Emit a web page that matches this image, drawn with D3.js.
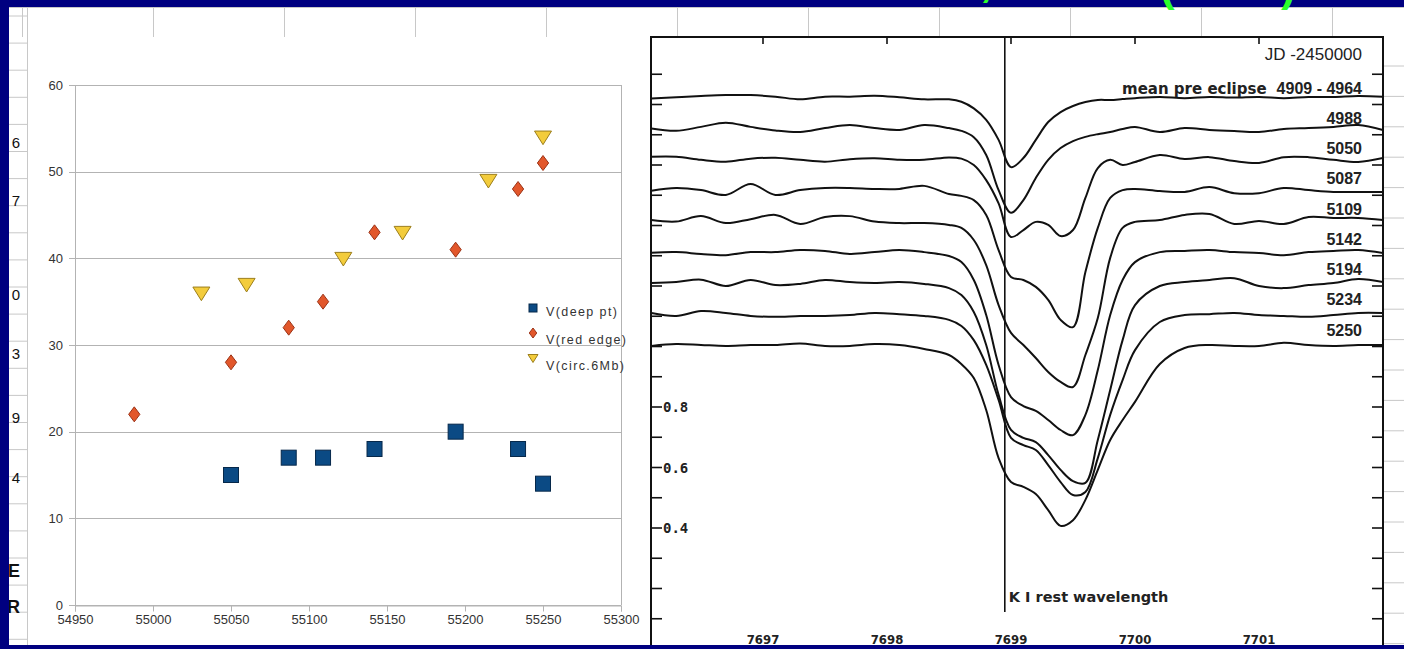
<!DOCTYPE html>
<html>
<head>
<meta charset="utf-8">
<script src="https://cdn.jsdelivr.net/npm/d3@7"></script>
<style>
  html, body { margin: 0; padding: 0; background: #000080; }
  svg { display: block; }
</style>
</head>
<body>
<svg id="chart" width="1404" height="649"></svg>
<script>
// ---------- Left panel: velocities vs JD ----------
const jdDeep   = [55050, 55087, 55109, 55142, 55194, 55234, 55250];
const vDeep    = [15, 17, 17, 18, 20, 18, 14];
const jdRed    = [54988, 55050, 55087, 55109, 55142, 55194, 55234, 55250];
const vRed     = [22, 28, 32, 35, 43, 41, 48, 51];
const jdCirc   = [55031, 55060, 55122, 55160, 55215, 55250];
const vCirc    = [36, 37, 40, 43, 49, 54];
const jdTicks  = [54950, 55000, 55050, 55100, 55150, 55200, 55250, 55300];
const vTicks   = [0, 10, 20, 30, 40, 50, 60];
const legendNames = ["V(deep pt)", "V(red edge)", "V(circ.6Mb)"];

// ---------- Right panel: K I 7699 line profiles ----------
const wavelengths = [7696.1, 7696.3, 7696.5, 7696.7, 7696.9, 7697.1, 7697.3, 7697.5, 7697.7, 7697.9,
  7698.1, 7698.3, 7698.5, 7698.6, 7698.7, 7698.8, 7698.9, 7699.0, 7699.1, 7699.2,
  7699.3, 7699.4, 7699.5, 7699.6, 7699.7, 7699.8, 7699.9, 7700.0, 7700.2, 7700.4,
  7700.6, 7700.8, 7701.0, 7701.2, 7701.4, 7701.6, 7701.8, 7702.0];
const fluxMean = [1.020,1.024,1.028,1.031,1.031,1.026,1.017,1.026,1.026,1.029,1.024,1.017,1.017,1.009,0.987,0.949,0.883,0.793,0.823,0.883,0.942,0.975,0.995,1.008,1.015,1.015,1.018,1.021,1.025,1.021,1.025,1.023,1.025,1.021,1.025,1.025,1.028,1.026];
const flux4988 = [1.021,1.013,1.026,1.040,1.026,1.014,1.009,1.022,1.032,1.022,1.016,1.032,1.022,1.013,0.992,0.933,0.817,0.742,0.784,0.857,0.917,0.956,0.979,0.993,1.002,1.009,1.019,1.026,1.009,1.022,1.016,1.012,1.009,1.019,1.022,1.026,1.032,1.016];
const flux5050 = [1.027,1.027,1.017,1.011,1.021,1.024,1.017,1.011,1.019,1.022,1.017,1.017,1.025,1.021,1.000,0.950,0.873,0.762,0.785,0.812,0.802,0.765,0.785,0.891,0.990,1.017,1.000,1.010,1.033,1.020,1.026,1.013,1.007,1.026,1.026,1.017,1.010,1.023];
const flux5087 = [1.015,1.024,1.017,1.001,1.037,1.001,1.017,1.024,1.024,1.021,1.021,1.031,1.004,0.998,0.984,0.935,0.819,0.730,0.720,0.697,0.654,0.588,0.564,0.746,0.892,0.991,1.017,1.021,1.014,1.011,1.027,1.007,1.007,1.024,1.017,1.011,1.011,1.011];
const flux5109 = [1.018,1.013,1.031,1.008,1.021,1.035,1.005,1.028,1.031,1.013,1.008,1.008,1.002,0.992,0.952,0.869,0.737,0.645,0.605,0.562,0.516,0.483,0.466,0.572,0.694,0.893,0.992,1.012,1.018,1.035,1.038,1.005,1.015,1.005,1.028,1.025,1.025,1.018];
const flux5142 = [1.010,1.012,1.006,1.002,1.012,1.012,1.019,1.016,1.006,1.012,1.019,1.012,0.999,0.979,0.920,0.804,0.639,0.533,0.503,0.487,0.457,0.424,0.407,0.474,0.622,0.804,0.920,0.979,1.012,1.016,1.019,1.012,1.009,1.002,1.012,1.016,1.019,1.009];
const flux5194 = [1.010,1.013,1.021,1.000,1.020,1.003,1.007,1.020,1.013,1.010,1.013,1.007,0.993,0.970,0.914,0.805,0.640,0.524,0.498,0.484,0.441,0.392,0.355,0.349,0.491,0.656,0.821,0.937,1.000,1.013,1.020,1.026,1.000,0.993,1.003,1.010,1.023,1.013];
const flux5234 = [1.011,1.001,1.017,1.011,1.001,0.998,1.001,1.001,1.004,1.011,1.007,1.001,0.988,0.968,0.921,0.839,0.723,0.598,0.574,0.558,0.508,0.452,0.409,0.419,0.531,0.674,0.789,0.888,0.981,1.004,1.007,1.011,1.004,1.001,0.998,1.004,1.011,1.011];
const flux5250 = [1.002,1.008,1.005,1.002,1.005,1.005,1.010,1.002,1.002,1.008,1.005,0.992,0.972,0.942,0.896,0.790,0.631,0.552,0.536,0.512,0.459,0.407,0.426,0.493,0.592,0.691,0.757,0.817,0.942,0.995,1.005,1.002,1.002,1.012,1.005,1.002,1.005,1.005];
const spectrumNames   = ["mean pre eclipse  4909 - 4964", "4988", "5050", "5087", "5109", "5142", "5194", "5234", "5250"];
const spectrumOffsets = [0.8, 0.7, 0.6, 0.5, 0.4, 0.3, 0.2, 0.1, 0.0];
const waveTicks  = [7697, 7698, 7699, 7700, 7701];
const fluxLabels = [0.4, 0.6, 0.8];
const kIRest = 7698.95;

const spectra = [fluxMean, flux4988, flux5050, flux5087, flux5109, flux5142, flux5194, flux5234, flux5250];

const W = 1404, H = 649;
const svg = d3.select("#chart");

// ---------- page / worksheet backdrop ----------
svg.append("rect").attr("width", W).attr("height", H).attr("fill", "#000080");
const sheet = svg.append("g");
sheet.append("rect").attr("x", 9).attr("y", 7).attr("width", W - 9).attr("height", 638).attr("fill", "#fff");
sheet.append("line").attr("x1", 9).attr("x2", W).attr("y1", 7.5).attr("y2", 7.5).attr("stroke", "#c8c8c8");
// column separators of the sheet
sheet.selectAll("line.col").data(d3.range(22, W, 131)).join("line")
  .attr("x1", d => d + 0.5).attr("x2", d => d + 0.5).attr("y1", 7).attr("y2", 37)
  .attr("stroke", "#c8c8c8");
// row separators (left header column and right margin)
const rowYs = d3.range(16, 645, 27.1);
sheet.selectAll("line.rowL").data(rowYs).join("line")
  .attr("x1", 9).attr("x2", 28).attr("y1", d => d).attr("y2", d => d).attr("stroke", "#c8c8c8");
sheet.append("line").attr("x1", 27.5).attr("x2", 27.5).attr("y1", 7).attr("y2", 645).attr("stroke", "#c8c8c8");
sheet.selectAll("line.rowR").data(d3.range(66, 645, 30.4)).join("line")
  .attr("x1", 1383).attr("x2", W).attr("y1", d => d).attr("y2", d => d).attr("stroke", "#c8c8c8");

// cut-off text of the sheet's first column
const sideText = [["6", 148, 15, "normal"], ["7", 206, 15, "normal"], ["0", 300, 15, "normal"], ["3", 359, 15, "normal"],
  ["9", 423, 15, "normal"], ["4", 483, 15, "normal"], ["E", 577, 18, "bold"], ["R", 613, 18, "bold"]];
sheet.selectAll("text.side").data(sideText).join("text")
  .attr("x", 20).attr("y", d => d[1]).attr("text-anchor", "end")
  .attr("font-family", "Liberation Sans, Arial, sans-serif")
  .attr("font-size", d => d[2]).attr("font-weight", d => d[3]).attr("fill", "#111").text(d => d[0]);

// ================= LEFT CHART =================
const left = svg.append("g");
left.append("rect").attr("x", 28).attr("y", 37).attr("width", 623).attr("height", 608).attr("fill", "#fff");

const xL = d3.scaleLinear().domain([54950, 55300]).range([75, 621]);
const yL = d3.scaleLinear().domain([0, 60]).range([605, 85]);
const gridCol = "#b3b3b3";
const fontL = "Liberation Sans, Arial, sans-serif";

left.selectAll("line.hgrid").data(vTicks).join("line")
  .attr("x1", xL.range()[0] - 6).attr("x2", xL.range()[1])
  .attr("y1", d => Math.round(yL(d)) + 0.5).attr("y2", d => Math.round(yL(d)) + 0.5)
  .attr("stroke", gridCol);
left.append("line").attr("x1", 75.5).attr("x2", 75.5).attr("y1", yL(60)).attr("y2", yL(0)).attr("stroke", gridCol);
left.append("line").attr("x1", 621.5).attr("x2", 621.5).attr("y1", yL(60)).attr("y2", yL(0)).attr("stroke", gridCol);

const xAxisL = d3.axisBottom(xL).tickValues(jdTicks).tickFormat(d3.format("d")).tickSize(6).tickPadding(3);
const gxL = left.append("g").attr("transform", `translate(0,${Math.round(yL(0)) + 0.5})`).call(xAxisL);
gxL.select(".domain").attr("stroke", gridCol);
gxL.selectAll(".tick line").attr("stroke", gridCol);
gxL.selectAll(".tick text").attr("font-family", fontL).attr("font-size", 13).attr("fill", "#333");

left.selectAll("text.ylab").data(vTicks).join("text")
  .attr("x", 63).attr("y", d => yL(d)).attr("dy", "0.35em").attr("text-anchor", "end")
  .attr("font-family", fontL).attr("font-size", 13).attr("fill", "#333").text(d => d);

const sq = 15;
left.selectAll("rect.deep").data(jdDeep).join("rect")
  .attr("x", d => xL(d) - sq / 2).attr("y", (d, i) => yL(vDeep[i]) - sq / 2)
  .attr("width", sq).attr("height", sq)
  .attr("fill", "#0b4a84").attr("stroke", "#06284a").attr("stroke-width", 1);

const diamond = (cx, cy, r) => `M${cx},${cy - r}L${cx + r * 0.75},${cy}L${cx},${cy + r}L${cx - r * 0.75},${cy}Z`;
left.selectAll("path.red").data(jdRed).join("path")
  .attr("d", (d, i) => diamond(xL(d), yL(vRed[i]), 7.5))
  .attr("fill", "#e2572b").attr("stroke", "#9b3317").attr("stroke-width", 1);

const tri = (cx, cy, r) => `M${cx - r},${cy - r * 0.7}L${cx + r},${cy - r * 0.7}L${cx},${cy + r * 0.9}Z`;
left.selectAll("path.circ").data(jdCirc).join("path")
  .attr("d", (d, i) => tri(xL(d), yL(vCirc[i]), 8.5))
  .attr("fill", "#f3cc3c").attr("stroke", "#9c7f1c").attr("stroke-width", 1);

// legend
const lg = left.append("g").attr("transform", "translate(533,308)");
lg.append("rect").attr("x", -4).attr("y", -4).attr("width", 8).attr("height", 8)
  .attr("fill", "#0b4a84").attr("stroke", "#06284a");
lg.append("path").attr("d", diamond(0, 25, 5)).attr("fill", "#e2572b").attr("stroke", "#9b3317");
lg.append("path").attr("d", tri(0, 50, 5)).attr("fill", "#f3cc3c").attr("stroke", "#9c7f1c");
lg.selectAll("text").data(legendNames).join("text")
  .attr("x", 13).attr("y", (d, i) => 4 + 26 * i + (i ? 2 : 0)).attr("dy", "0.35em")
  .attr("font-family", fontL).attr("font-size", 12.5).attr("letter-spacing", 1.4)
  .attr("fill", "#333").text(d => d);

// ================= RIGHT CHART =================
const right = svg.append("g");
const fx0 = 651, fx1 = 1383, fy0 = 37;
right.append("rect").attr("x", fx0).attr("y", fy0).attr("width", fx1 - fx0).attr("height", H - fy0).attr("fill", "#fff");

const xR = d3.scaleLinear().domain([7697, 7701]).range([763, 1259]);
const yR = d3.scaleLinear().domain([0.4, 0.8]).range([528, 407]);

right.append("clipPath").attr("id", "frameClip")
  .append("rect").attr("x", fx0).attr("y", fy0).attr("width", fx1 - fx0).attr("height", H - fy0);

// ticks on the frame: flux every 0.1 on both sides, wavelength every Angstrom on top
const fluxTicks = d3.range(1, 20).map(k => k / 10);
right.selectAll("line.tl").data(fluxTicks).join("line")
  .attr("x1", fx0).attr("x2", fx0 + 11).attr("y1", d => yR(d)).attr("y2", d => yR(d))
  .attr("stroke", "#111").attr("stroke-width", 1.6);
right.selectAll("line.tr").data(fluxTicks).join("line")
  .attr("x1", fx1 - 11).attr("x2", fx1).attr("y1", d => yR(d)).attr("y2", d => yR(d))
  .attr("stroke", "#111").attr("stroke-width", 1.6);
right.selectAll("line.tt").data(waveTicks).join("line")
  .attr("x1", d => xR(d)).attr("x2", d => xR(d)).attr("y1", fy0).attr("y2", fy0 + 7)
  .attr("stroke", "#111").attr("stroke-width", 1.6);

right.selectAll("text.fl").data(fluxLabels).join("text")
  .attr("x", fx0 + 12).attr("y", d => yR(d)).attr("dy", "0.36em")
  .attr("font-family", "DejaVu Sans Mono, monospace").attr("font-weight", "bold")
  .attr("font-size", 14).attr("fill", "#222").text(d => d.toFixed(1));

right.selectAll("text.wl").data(waveTicks).join("text")
  .attr("x", d => xR(d)).attr("y", 644).attr("text-anchor", "middle")
  .attr("font-family", "Liberation Sans Narrow, DejaVu Sans Condensed, sans-serif").attr("font-weight", "bold")
  .attr("font-size", 13).attr("fill", "#222").text(d => d);

// rest wavelength marker
right.append("line").attr("x1", xR(kIRest)).attr("x2", xR(kIRest)).attr("y1", fy0).attr("y2", 612)
  .attr("stroke", "#111").attr("stroke-width", 1.6);
right.append("text").attr("x", xR(kIRest) + 4).attr("y", 602)
  .attr("font-family", "DejaVu Sans, sans-serif").attr("font-weight", "bold")
  .attr("font-size", 14.5).attr("fill", "#222").text("K I rest wavelength");

// spectra, each shifted up by its offset
const line = d3.line()
  .x((d, i) => xR(wavelengths[i]))
  .y(d => d)
  .curve(d3.curveCatmullRom.alpha(0.5));
right.append("g").attr("clip-path", "url(#frameClip)")
  .selectAll("path.spec").data(spectra).join("path")
  .attr("d", (s, k) => line(s.map(f => yR(f + spectrumOffsets[k]))))
  .attr("fill", "none").attr("stroke", "#111").attr("stroke-width", 2).attr("stroke-linejoin", "round");

// spectrum labels
const labelFont = "Liberation Sans, Arial, sans-serif";
right.append("text").attr("x", 1362).attr("y", yR(1 + spectrumOffsets[0]) - 45)
  .attr("text-anchor", "end").attr("font-family", labelFont).attr("font-size", 17)
  .attr("fill", "#222").text("JD -2450000");
right.selectAll("text.sl").data(spectrumNames).join("text")
  .attr("x", 1362).attr("y", (d, k) => yR(1 + spectrumOffsets[k]) - 11)
  .attr("text-anchor", "end").attr("font-family", labelFont).attr("font-weight", "bold")
  .attr("font-size", 16).attr("fill", "#222")
  .each(function (d, k) {
    const t = d3.select(this);
    if (k === 0) {
      t.append("tspan").attr("font-family", "DejaVu Sans, sans-serif").attr("font-size", 15).text("mean pre eclipse");
      t.append("tspan").attr("dx", 10).text("4909 - 4964");
    } else {
      t.text(d);
    }
  });

// frame
right.append("path")
  .attr("d", `M${fx0},${H}V${fy0}H${fx1}V${H}`)
  .attr("fill", "none").attr("stroke", "#111").attr("stroke-width", 2);

// ---------- navy edges and the title glyphs above the sheet ----------
svg.append("rect").attr("x", 0).attr("y", 645).attr("width", W).attr("height", H - 645).attr("fill", "#000080");
svg.append("rect").attr("x", 0).attr("y", 0).attr("width", W).attr("height", 7).attr("fill", "#000080");
svg.append("rect").attr("x", 0).attr("y", 0).attr("width", 9).attr("height", H).attr("fill", "#000080");
const title = svg.append("g").attr("font-family", "Liberation Sans, Arial, sans-serif")
  .attr("font-weight", "bold").attr("font-size", 44).attr("fill", "#2bff2b");
title.append("text").attr("x", 980).attr("y", -4).text(",");
title.append("text").attr("x", 1160).attr("y", 1).text("(");
title.append("text").attr("x", 1281).attr("y", 1).text(")");
</script>
</body>
</html>
